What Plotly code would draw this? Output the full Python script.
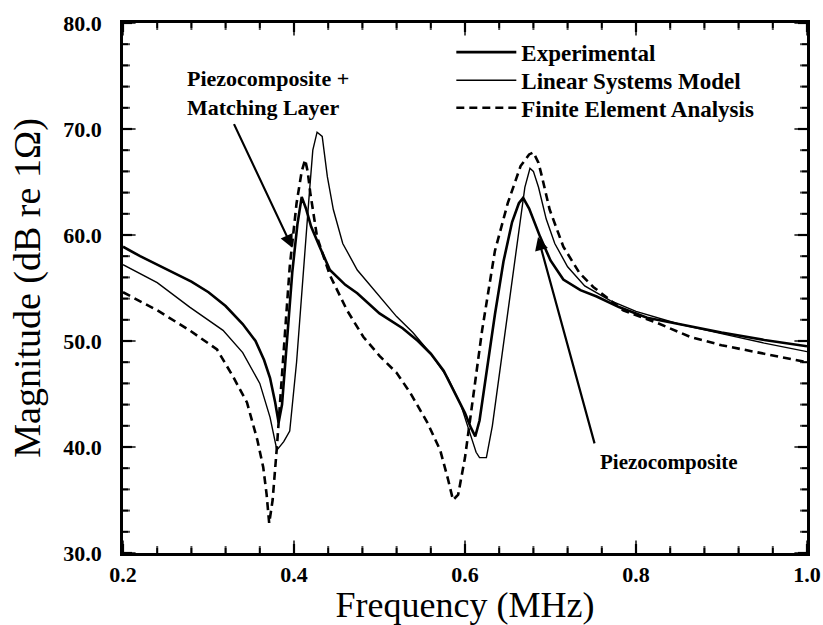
import plotly.graph_objects as go

# ---------------- data ----------------
exp_f = [0.2, 0.22, 0.25, 0.28, 0.3, 0.32, 0.34, 0.355, 0.365, 0.372, 0.378, 0.382,
         0.386, 0.392, 0.398, 0.404, 0.409, 0.414, 0.42, 0.43, 0.442, 0.46, 0.474,
         0.5, 0.527, 0.545, 0.56, 0.575, 0.59, 0.6, 0.607, 0.612, 0.617, 0.625,
         0.635, 0.645, 0.655, 0.663, 0.668, 0.675, 0.688, 0.7, 0.715, 0.735, 0.754,
         0.78, 0.813, 0.85, 0.9, 0.95, 1.0]
exp_db = [58.9, 58.0, 56.8, 55.6, 54.6, 53.3, 51.6, 50.0, 48.2, 46.5, 44.2, 42.3,
          44.0, 50.5, 56.5, 61.0, 63.6, 62.5, 60.8, 58.9, 56.7, 55.3, 54.5,
          52.6, 51.2, 50.0, 48.8, 47.2, 44.8, 43.2, 41.8, 41.0, 42.5, 47.0,
          52.5, 57.5, 61.2, 63.0, 63.5, 62.5, 59.8, 57.6, 55.8, 54.8, 54.2,
          53.2, 52.2, 51.6, 50.8, 50.1, 49.5]

lin_f = [0.2, 0.24, 0.278, 0.317, 0.34, 0.36, 0.372, 0.38, 0.388, 0.395, 0.403,
         0.411, 0.418, 0.422, 0.427, 0.433, 0.439, 0.446, 0.457, 0.474, 0.497,
         0.52, 0.539, 0.56, 0.58, 0.595, 0.605, 0.613, 0.617, 0.625, 0.632, 0.642,
         0.652, 0.662, 0.67, 0.676, 0.68, 0.686, 0.695, 0.705, 0.72, 0.74, 0.77,
         0.8, 0.85, 0.9, 0.95, 1.0]
lin_db = [57.2, 55.5, 53.2, 51.0, 48.9, 46.0, 42.8, 39.7, 40.5, 41.5, 48.0,
          57.0, 64.0, 68.0, 69.7, 69.3, 65.5, 62.4, 59.2, 56.7, 54.5,
          52.3, 50.8, 48.8, 46.5, 44.0, 41.5, 39.5, 39.0, 39.0, 42.0, 48.0,
          54.0, 60.0, 64.5, 66.3, 66.0, 64.5, 61.5, 59.2, 57.0, 55.2, 53.8,
          52.8, 51.6, 50.7, 49.8, 49.0]

fea_f = [0.2, 0.24, 0.278, 0.31, 0.329, 0.345, 0.357, 0.364, 0.368, 0.371, 0.375,
         0.38, 0.387, 0.395, 0.403, 0.409, 0.413, 0.416, 0.419, 0.427, 0.442,
         0.462, 0.481, 0.5, 0.52, 0.536, 0.556, 0.571, 0.58, 0.586, 0.592, 0.6,
         0.61, 0.62, 0.635, 0.65, 0.665, 0.675, 0.68, 0.686, 0.69, 0.699, 0.715,
         0.734, 0.75, 0.785, 0.825, 0.863, 0.9, 0.95, 1.0]
fea_db = [54.6, 52.9, 51.0, 49.2, 46.6, 44.2, 40.7, 38.1, 35.5, 32.8, 35.0,
          40.0, 48.0, 57.0, 63.0, 66.0, 67.1, 66.0, 64.0, 59.8, 56.2,
          52.9, 50.4, 48.6, 47.0, 45.1, 42.3, 39.7, 37.0, 35.0, 35.5, 39.0,
          45.0, 51.0, 58.5, 63.0, 66.5, 67.6, 67.8, 66.8, 65.5, 62.4, 58.9,
          56.4, 55.1, 52.9, 51.7, 50.4, 49.6, 48.8, 48.0]

X_RANGE = [0.2, 1.0]
Y_RANGE = [30, 80]
x_major = [0.2, 0.4, 0.6, 0.8, 1.0]
y_major = [30, 40, 50, 60, 70, 80]
x_minor = [round(0.2 + 0.04 * i, 2) for i in range(21)]
y_minor = list(range(30, 81, 2))

SERIF = "Liberation Serif, Times New Roman, serif"
W, H = 823, 625
MAJ, MIN = 9, 5

fig = go.Figure()
fig.add_trace(go.Scatter(x=exp_f, y=exp_db, mode="lines", name="Experimental",
                         legend="legend",
                         line=dict(color="black", width=2.6)))
fig.add_trace(go.Scatter(x=lin_f, y=lin_db, mode="lines", name="Linear Systems Model",
                         legend="legend2",
                         line=dict(color="black", width=1.4)))
fig.add_trace(go.Scatter(x=fea_f, y=fea_db, mode="lines", name="Finite Element Analysis",
                         legend="legend3",
                         line=dict(color="black", width=2.6, dash="8px,5px")))

fig.update_xaxes(range=X_RANGE, tickvals=x_major, tickformat=".1f",
                 showline=True, linecolor="black", linewidth=2.5, mirror=True,
                 ticks="", showgrid=False, zeroline=False,
                 tickfont=dict(family=SERIF, size=22, color="black", weight="bold"),
                 title=dict(text="Frequency (MHz)",
                            font=dict(family=SERIF, size=36, color="black"), standoff=10))
fig.update_yaxes(range=Y_RANGE, tickvals=y_major, tickformat=".1f",
                 showline=True, linecolor="black", linewidth=2.5, mirror=True,
                 ticks="", showgrid=False, zeroline=False, ticklabelstandoff=14,
                 tickfont=dict(family=SERIF, size=22, color="black", weight="bold"),
                 title=dict(text="Magnitude (dB re 1Ω)",
                            font=dict(family=SERIF, size=38, color="black"), standoff=12))

# inside tick marks on all four sides, positioned on the axes' scales (length in px)
def tick_line(width):
    return dict(color="black", width=width)

for t in x_minor:
    L, w = (MAJ, 2.2) if any(abs(t - m) < 1e-9 for m in x_major) else (MIN, 1.8)
    fig.add_shape(type="line", xref="x", yref="y", x0=t, x1=t,
                  ysizemode="pixel", yanchor=Y_RANGE[0], y0=0, y1=L, line=tick_line(w))
    fig.add_shape(type="line", xref="x", yref="y", x0=t, x1=t,
                  ysizemode="pixel", yanchor=Y_RANGE[1], y0=0, y1=-L, line=tick_line(w))
for t in y_minor:
    L, w = (MAJ, 2.2) if t in y_major else (MIN, 1.8)
    fig.add_shape(type="line", xref="x", yref="y", y0=t, y1=t,
                  xsizemode="pixel", xanchor=X_RANGE[0], x0=0, x1=L, line=tick_line(w))
    fig.add_shape(type="line", xref="x", yref="y", y0=t, y1=t,
                  xsizemode="pixel", xanchor=X_RANGE[1], x0=0, x1=-L, line=tick_line(w))

# same inside ticks as clipped line markers on the frame (half outside is clipped away)
x_tick_sizes = [2 * MAJ if any(abs(t - m) < 1e-9 for m in x_major) else 2 * MIN for t in x_minor]
y_tick_sizes = [2 * MAJ if t in y_major else 2 * MIN for t in y_minor]
fig.add_trace(go.Scatter(
    x=x_minor + x_minor, y=[Y_RANGE[0]] * len(x_minor) + [Y_RANGE[1]] * len(x_minor),
    mode="markers", showlegend=False, hoverinfo="skip", cliponaxis=True,
    marker=dict(symbol="line-ns-open", size=x_tick_sizes + x_tick_sizes,
                color="black", line=dict(color="black", width=2))))
fig.add_trace(go.Scatter(
    x=[X_RANGE[0]] * len(y_minor) + [X_RANGE[1]] * len(y_minor), y=y_minor + y_minor,
    mode="markers", showlegend=False, hoverinfo="skip", cliponaxis=True,
    marker=dict(symbol="line-ew-open", size=y_tick_sizes + y_tick_sizes,
                color="black", line=dict(color="black", width=2))))

# annotations
fig.add_annotation(x=0.2725, y=73.4, xref="x", yref="y", text="Piezocomposite +<br>Matching Layer",
                   showarrow=False, xanchor="left", yanchor="middle", align="left",
                   font=dict(family=SERIF, size=22, color="black", weight="bold"))
fig.add_annotation(x=0.398, y=58.8, ax=0.329, ay=70.6, xref="x", yref="y", axref="x", ayref="y",
                   text="", showarrow=True, arrowhead=2, arrowsize=1.2, arrowwidth=2.2,
                   arrowcolor="black")
fig.add_annotation(x=0.7556, y=38.6, xref="x", yref="y", text="Piezocomposite",
                   showarrow=False, xanchor="left", yanchor="middle",
                   font=dict(family=SERIF, size=21, color="black", weight="bold"))
fig.add_annotation(x=0.6854, y=59.8, ax=0.752, ay=40.2, xref="x", yref="y", axref="x", ayref="y",
                   text="", showarrow=True, arrowhead=2, arrowsize=1.2, arrowwidth=2.2,
                   arrowcolor="black")

leg_common = dict(x=0.480, xanchor="left", yanchor="middle",
                  bgcolor="rgba(0,0,0,0)", borderwidth=0, itemwidth=60,
                  font=dict(family=SERIF, size=23, color="black", weight="bold"))

fig.update_layout(
    width=W, height=H,
    margin=dict(l=123, r=16, t=23, b=72, autoexpand=False),
    paper_bgcolor="white", plot_bgcolor="white",
    showlegend=True,
    legend=dict(y=0.945, **leg_common),
    legend2=dict(y=0.892, **leg_common),
    legend3=dict(y=0.840, **leg_common),
)

fig.write_html("out.html")
